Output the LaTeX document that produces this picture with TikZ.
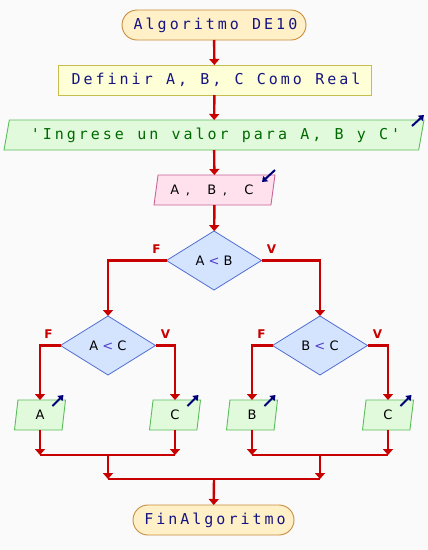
\documentclass[tikz,border=0pt]{standalone}
\usepackage{fontspec}
\usetikzlibrary{shapes.geometric,arrows.meta}
\newfontfamily\pmono[LetterSpace=20,WordSpace={1.1,0,0},Ligatures=TeXOff]{DejaVu Sans Mono}
\newfontfamily\psans{DejaVu Sans}
\definecolor{bg}{RGB}{250,250,250}
\definecolor{termfill}{RGB}{255,240,200}
\definecolor{termdraw}{RGB}{200,140,60}
\definecolor{deffill}{RGB}{255,255,215}
\definecolor{defdraw}{RGB}{200,190,80}
\definecolor{outfill}{RGB}{225,250,220}
\definecolor{outdraw}{RGB}{90,190,90}
\definecolor{infill}{RGB}{255,225,238}
\definecolor{indraw}{RGB}{200,100,150}
\definecolor{decfill}{RGB}{212,228,255}
\definecolor{decdraw}{RGB}{80,110,210}
\definecolor{conn}{RGB}{200,0,0}
\definecolor{navy}{RGB}{20,20,130}
\definecolor{strgreen}{RGB}{0,105,0}
\definecolor{iconc}{RGB}{0,0,120}
\definecolor{optc}{RGB}{80,60,200}
\begin{document}
\begin{tikzpicture}[x=1pt,y=-1pt,
  every node/.style={inner sep=0pt, outer sep=0pt},
  monotext/.style={font=\pmono\fontsize{15}{17}\selectfont},
  sanstext/.style={font=\psans\fontsize{13}{15}\selectfont},
  term/.style={rectangle, rounded corners=15pt, draw=termdraw, fill=termfill, line width=0.9pt, minimum height=30pt, monotext, text=navy},
  defbox/.style={rectangle, draw=defdraw, fill=deffill, line width=0.9pt, minimum height=30pt, monotext, text=navy},
  outbox/.style={trapezium, trapezium left angle=70, trapezium right angle=110, trapezium stretches body=true, draw=outdraw, fill=outfill, line width=0.9pt, minimum height=30pt},
  inbox/.style={trapezium, trapezium left angle=70, trapezium right angle=110, trapezium stretches body=true, draw=indraw, fill=infill, line width=0.9pt, minimum height=30pt, sanstext, text=black},
  decbox/.style={diamond, draw=decdraw, fill=decfill, line width=0.8pt, minimum width=95pt, minimum height=59pt, sanstext, text=black},
  flowline/.style={draw=conn, line width=2.4pt},
  flow/.style={flowline, -{Triangle[width=10pt,length=6pt]}},
  branch/.style={font=\psans\bfseries\fontsize{12}{14}\selectfont, text=conn},
  icon/.style={draw=iconc, line width=2pt, -{Triangle[width=7pt,length=5pt]}}
]
\useasboundingbox (0,0) rectangle (428,550);
\fill[bg] (0,0) rectangle (428,550);

\node[term, minimum width=184pt] (start) at (214,25) {\kern3pt Algoritmo DE10};
\node[defbox, minimum width=313pt] (def) at (214.5,80) {\kern3pt Definir A, B, C Como Real};
\node[outbox, minimum width=420pt, monotext, text=strgreen] (out1) at (214,135) {\kern3pt 'Ingrese un valor para A, B y C'};
\node[inbox, minimum width=121pt] (in1) at (214.5,190) {A\kern6.5pt,\kern17.5pt B\kern6.5pt,\kern17.5pt C\kern5pt};
\node[decbox] (d1) at (214,260.5) {A \textcolor{optc}{<} B};
\node[decbox] (d2) at (108,345.5) {A \textcolor{optc}{<} C};
\node[decbox] (d3) at (320,345.5) {B \textcolor{optc}{<} C};
\node[outbox, minimum width=51pt, sanstext] (oA) at (40,415) {A};
\node[outbox, minimum width=51pt, sanstext] (oC1) at (175,415) {C};
\node[outbox, minimum width=51pt, sanstext] (oB) at (252,415) {B};
\node[outbox, minimum width=51pt, sanstext] (oC2) at (388,415) {C};
\node[term, minimum width=161pt] (fin) at (213.5,520) {\kern3pt FinAlgoritmo};

% icons
\draw[icon] ([shift={(-12,6)}]out1.top right corner) -- ([shift={(0,-5)}]out1.top right corner);
\draw[icon] ([shift={(0,-5)}]in1.top right corner) -- ([shift={(-13,7)}]in1.top right corner);
\foreach \n in {oA,oC1,oB,oC2}{
  \draw[icon] ([shift={(-13,6)}]\n.top right corner) -- ([shift={(-2,-5)}]\n.top right corner);
}

% branch labels
\node[branch] (f1) at ([shift={(-10,-11)}]d1.west) {F};
\node[branch] (v1) at ([shift={(10,-11)}]d1.east) {V};
\node[branch] (f2) at ([shift={(-12,-11)}]d2.west) {F};
\node[branch] (v2) at ([shift={(10,-11)}]d2.east) {V};
\node[branch] (f3) at ([shift={(-11,-11)}]d3.west) {F};
\node[branch] (v3) at ([shift={(10,-11)}]d3.east) {V};

% coordinates for joins
\coordinate (jL) at (108,455);
\coordinate (jR) at (320,455);
\coordinate (jM) at (214,479);

% connectors
\draw[flow] (start) -- (def);
\draw[flow] (def) -- (out1);
\draw[flow] (out1) -- (in1);
\draw[flow] (in1) -- (d1);
\draw[flow] (d1.west) -| (d2.north);
\draw[flow] (d1.east) -| (d3.north);
\draw[flow] (d2.west) -| (oA.north);
\draw[flow] (d2.east) -| (oC1.north);
\draw[flow] (d3.west) -| (oB.north);
\draw[flow] (d3.east) -| (oC2.north);
\draw[flow] (oA.south) -- (oA.south |- jL);
\draw[flow] (oC1.south) -- (oC1.south |- jL);
\draw[flow] (oB.south) -- (oB.south |- jR);
\draw[flow] (oC2.south) -- (oC2.south |- jR);
\draw[flowline] (oA.south |- jL) -- (oC1.south |- jL);
\draw[flowline] (oB.south |- jR) -- (oC2.south |- jR);
\draw[flow] (jL) -- (jL |- jM);
\draw[flow] (jR) -- (jR |- jM);
\draw[flowline] (jL |- jM) -- (jR |- jM);
\draw[flow] (jM) -- (fin);
\end{tikzpicture}
\end{document}
